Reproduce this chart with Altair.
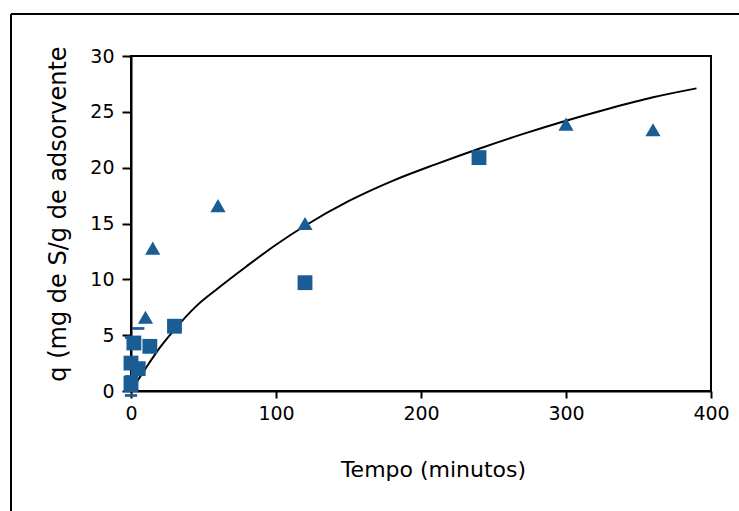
import altair as alt
import pandas as pd

# Triangles
tri_t = [0, 10, 15, 60, 120, 300, 360]
tri_q = [0.5, 6.6, 12.8, 16.6, 15.0, 23.9, 23.4]
# Squares
sq_t = [0, 0, 2, 5, 13, 30, 120, 240]
sq_q = [0.7, 2.5, 4.3, 2.0, 4.0, 5.8, 9.7, 20.9]
# Dash markers
dash_t = [0, 0, 0, 5]
dash_q = [-0.4, 1.3, 4.8, 5.6]
# Fitted curve
fit_t = [0, 10, 20, 30, 45, 60, 80, 100, 120, 150, 180, 210, 240, 270, 300, 330, 360, 390]
fit_q = [0, 2.0, 3.9, 5.5, 7.6, 9.2, 11.2, 13.1, 14.8, 17.0, 18.8, 20.3, 21.7, 23.0, 24.2, 25.3, 26.3, 27.1]

x_ticks = [0, 100, 200, 300, 400]
y_ticks = [0, 5, 10, 15, 20, 25, 30]

BLUE = "#1a5c94"
W, H = 580, 335
FONT = "DejaVu Sans"

tri = pd.DataFrame({"t": tri_t, "q": tri_q})
sq = pd.DataFrame({"t": sq_t, "q": sq_q})
dash = pd.DataFrame({"t": dash_t, "q": dash_q})
fit = pd.DataFrame({"t": fit_t, "q": fit_q})

xs = alt.Scale(domain=[0, 400], nice=False, zero=False)
ys = alt.Scale(domain=[0, 30], nice=False, zero=False)

x_axis = alt.Axis(values=x_ticks, title="Tempo (minutos)", grid=False,
                  tickSize=7, labelPadding=6, titlePadding=36, labelFlush=False,
                  titleX=W / 2 + 12, titleFontSize=22)
y_axis = alt.Axis(values=y_ticks, title="q (mg de S/g de adsorvente", grid=False,
                  tickSize=9, labelPadding=8, titlePadding=19, titleFontSize=24,
                  titleY=H / 2 - 10)

line = alt.Chart(fit).mark_line(color="black", strokeWidth=2, interpolate="monotone").encode(
    x=alt.X("t:Q", scale=xs, axis=x_axis),
    y=alt.Y("q:Q", scale=ys, axis=y_axis),
)

tri_pts = alt.Chart(tri).mark_point(shape="triangle-up", filled=True, color=BLUE,
                                      size=230, opacity=1).encode(
    x=alt.X("t:Q", scale=xs), y=alt.Y("q:Q", scale=ys))

sq_pts = alt.Chart(sq).mark_point(shape="square", filled=True, color=BLUE,
                                    size=220, opacity=1).encode(
    x=alt.X("t:Q", scale=xs), y=alt.Y("q:Q", scale=ys))

dash_pts = alt.Chart(dash).mark_point(shape="M-1,-0.22L1,-0.22L1,0.22L-1,0.22Z", filled=True,
                                        color=BLUE, size=150, opacity=1).encode(
    x=alt.X("t:Q", scale=xs), y=alt.Y("q:Q", scale=ys))

dummy = pd.DataFrame({"a": [0]})
frame_top = alt.Chart(dummy).mark_rule(color="black", strokeWidth=2).encode(
    x=alt.value(-120), x2=alt.value(W + 40), y=alt.value(-42))
frame_left = alt.Chart(dummy).mark_rule(color="black", strokeWidth=2).encode(
    x=alt.value(-120), y=alt.value(-42), y2=alt.value(H + 130))

chart = alt.layer(frame_top, frame_left, line, sq_pts, dash_pts, tri_pts).properties(
    width=W, height=H,
    autosize=alt.AutoSizeParams(type="none"),
    padding={"left": 131, "top": 56, "right": 739 - 131 - W, "bottom": 511 - 56 - H},
    background="white",
).configure_view(
    stroke="black", strokeWidth=2
).configure_axis(
    domainColor="black", domainWidth=2, tickColor="black", tickWidth=2,
    labelFont=FONT, labelFontSize=19, labelColor="black",
    titleFont=FONT, titleFontWeight="normal", titleColor="black",
)

chart.save("out.html", embed_options={"renderer": "svg", "actions": False})
